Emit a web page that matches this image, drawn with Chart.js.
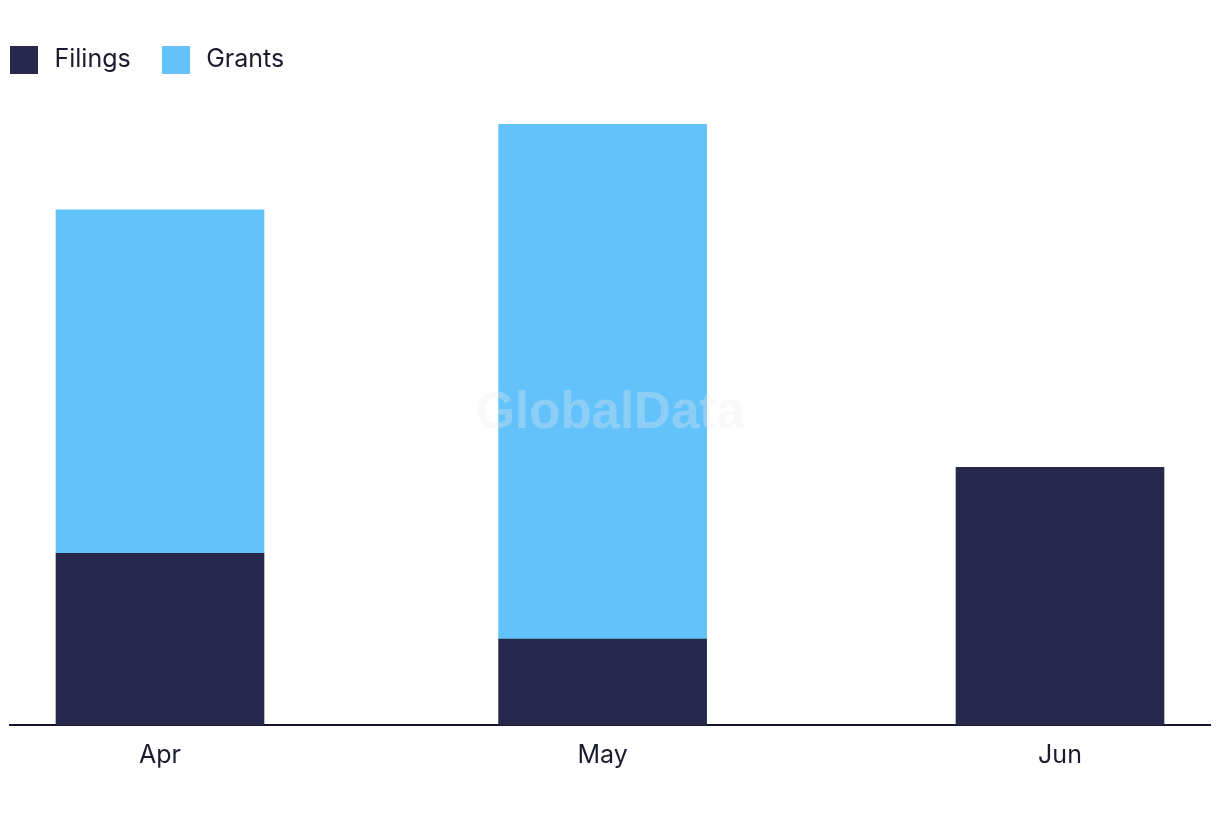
<!DOCTYPE html>
<html>
<head>
<meta charset="utf-8">
<script src="https://cdn.jsdelivr.net/npm/chart.js@4"></script>
<style>
html,body{margin:0;padding:0;background:#fff;}
#wrap{width:1220px;height:822px;}
</style>
</head>
<body>
<div id="wrap"><canvas id="c" width="1220" height="822"></canvas></div>
<script>
const categories = ['Apr', 'May', 'Jun'];
const monthStarts = ['2024-04-01', '2024-05-01', '2024-06-01'];
const filings = [2, 1, 3];
const grants = [4, 6, 0];

const seriesColors = ['#27284B', '#63C2FA'];

const DAY = 86400000;
const t0 = Date.parse(monthStarts[0]);
const dayPos = monthStarts.map(d => Math.round((Date.parse(d) - t0) / DAY));
const span = dayPos[dayPos.length - 1] - dayPos[0];
const pad = span / 6;

const LEG_PAD = 27;
const SWATCH = 28;
const SWATCH_SLOT = 36;

function swatch(color) {
  const c = document.createElement('canvas');
  c.width = SWATCH; c.height = SWATCH;
  const g = c.getContext('2d');
  g.fillStyle = color;
  g.fillRect(0, 0, SWATCH, SWATCH);
  return c;
}
const swatches = seriesColors.map(swatch);

const watermark = {
  id: 'watermark',
  afterDatasetsDraw(chart) {
    const {ctx, chartArea} = chart;
    ctx.save();
    ctx.font = 'bold 51px "Liberation Sans", Arial, sans-serif';
    ctx.fillStyle = 'rgba(235,235,235,0.3)';
    ctx.textAlign = 'center';
    ctx.textBaseline = 'middle';
    ctx.fillText('GlobalData', (chartArea.left + chartArea.right) / 2, 414);
    ctx.restore();
  }
};

const legendShift = {
  id: 'legendShift',
  afterLayout(chart) {
    const lg = chart.legend;
    if (!lg) return;
    lg.left = 10 - (SWATCH_SLOT - SWATCH) / 2 - LEG_PAD;
    lg.top = 47 - LEG_PAD;
  }
};

new Chart(document.getElementById('c'), {
  type: 'bar',
  data: {
    datasets: [
      { label: 'Filings', data: dayPos.map((x, i) => ({x, y: filings[i]})), backgroundColor: seriesColors[0], barThickness: 208 },
      { label: 'Grants', data: dayPos.map((x, i) => ({x, y: grants[i]})), backgroundColor: seriesColors[1], barThickness: 208 }
    ]
  },
  options: {
    responsive: false,
    animation: false,
    layout: { padding: { left: 10, right: 10, top: 62, bottom: 45 } },
    plugins: {
      legend: {
        position: 'top',
        align: 'start',
        labels: {
          usePointStyle: true,
          pointStyleWidth: SWATCH_SLOT,
          boxHeight: 28,
          padding: LEG_PAD,
          color: '#1B1B2F',
          font: { family: 'Inter, "Noto Sans", sans-serif', size: 25 },
          generateLabels(chart) {
            const items = Chart.defaults.plugins.legend.labels.generateLabels(chart);
            items.forEach((it, i) => { it.pointStyle = swatches[i]; });
            return items;
          }
        }
      },
      tooltip: { enabled: false }
    },
    scales: {
      x: {
        type: 'linear',
        stacked: true,
        offset: false,
        min: dayPos[0] - pad,
        max: dayPos[dayPos.length - 1] + pad,
        grid: { display: false },
        border: { display: true, color: '#14142B', width: 2 },
        afterBuildTicks(axis) { axis.ticks = dayPos.map(v => ({value: v})); },
        ticks: {
          autoSkip: false,
          maxRotation: 0,
          padding: 7,
          color: '#1B1B2F',
          font: { family: 'Inter, "Noto Sans", sans-serif', size: 25 },
          callback(v) { const i = dayPos.indexOf(v); return i >= 0 ? categories[i] : ''; }
        }
      },
      y: {
        stacked: true,
        display: false,
        min: 0,
        max: 7
      }
    }
  },
  plugins: [watermark, legendShift]
});
</script>
</body>
</html>
